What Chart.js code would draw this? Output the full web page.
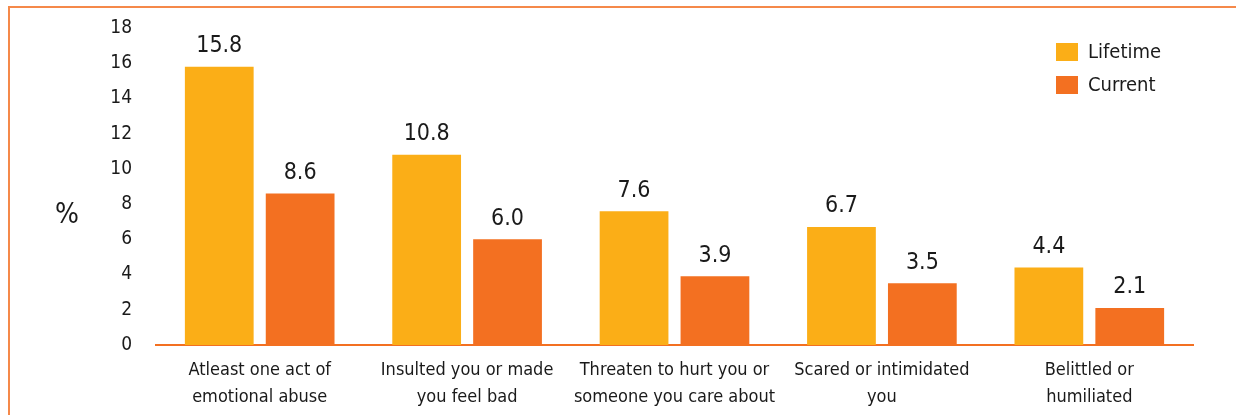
<!DOCTYPE html>
<html>
<head>
<meta charset="utf-8">
<script src="https://cdn.jsdelivr.net/npm/chart.js@4.4.1/dist/chart.umd.min.js"></script>
<style>
  html, body { margin: 0; padding: 0; background: #fff; }
  #wrap { position: relative; width: 1236px; height: 415px; }
  #frame { position: absolute; left: 8px; top: 6px; right: 0; bottom: 0;
           border-top: 2px solid #f5894a; border-left: 2px solid #f5894a; }
  canvas { position: absolute; left: 0; top: 0; }
</style>
</head>
<body>
<div id="wrap">
  <div id="frame"></div>
  <canvas id="chart" width="1236" height="415"></canvas>
</div>
<script>
// values
const categories = [
    ['Atleast one act of', 'emotional abuse'],
    ['Insulted you or made', 'you feel bad'],
    ['Threaten to hurt you or', 'someone you care about'],
    ['Scared or intimidated', 'you'],
    ['Belittled or', 'humiliated']
];
const lifetime = [15.8, 10.8, 7.6, 6.7, 4.4];
const current = [8.6, 6.0, 3.9, 3.5, 2.1];
const yTicks = [0, 2, 4, 6, 8, 10, 12, 14, 16, 18];

const FONT = '"Liberation Sans Narrow", "DejaVu Sans Condensed", sans-serif';
const YELLOW = '#fbae17';
const ORANGE = '#f37021';

// value labels above each bar
const valueLabels = {
    id: 'valueLabels',
    afterDatasetsDraw(chart) {
        const ctx = chart.ctx;
        ctx.save();
        ctx.font = '23px ' + FONT;
        ctx.fillStyle = '#1a1a1a';
        ctx.textAlign = 'center';
        ctx.textBaseline = 'bottom';
        chart.data.datasets.forEach((ds, i) => {
            chart.getDatasetMeta(i).data.forEach((bar, j) => {
                ctx.fillText(ds.data[j].toFixed(1), bar.x, bar.y - 9);
            });
        });
        ctx.restore();
    }
};

// "%" axis title and the legend at top right
const extras = {
    id: 'extras',
    afterDraw(chart) {
        const ctx = chart.ctx;
        ctx.save();
        ctx.fillStyle = '#1a1a1a';
        ctx.font = '28px ' + FONT;
        ctx.textAlign = 'center';
        ctx.textBaseline = 'middle';
        ctx.fillText('%', 67, 216);

        ctx.font = '20px ' + FONT;
        ctx.textAlign = 'left';
        chart.data.datasets.forEach((ds, i) => {
            const y = 43 + i * 33;
            ctx.fillStyle = ds.backgroundColor;
            ctx.fillRect(1056, y, 22, 18);
            ctx.fillStyle = '#1a1a1a';
            ctx.fillText(ds.label, 1088, y + 10);
        });
        ctx.restore();
    }
};

new Chart(document.getElementById('chart'), {
    type: 'bar',
    data: {
        labels: categories,
        datasets: [
            { label: 'Lifetime', data: lifetime, backgroundColor: YELLOW },
            { label: 'Current', data: current, backgroundColor: ORANGE }
        ]
    },
    options: {
        responsive: false,
        animation: false,
        layout: { padding: { top: 28, right: 43, bottom: 0, left: 0 } },
        categoryPercentage: 0.78,
        barPercentage: 0.85,
        plugins: { legend: { display: false }, tooltip: { enabled: false } },
        scales: {
            x: {
                afterFit(scale) { scale.height = 70; },
                grid: { display: false, drawTicks: false },
                border: { display: true, color: ORANGE, width: 2 },
                ticks: { color: '#1a1a1a', font: { family: FONT, size: 18, lineHeight: 1.5 }, padding: 12, maxRotation: 0, autoSkip: false }
            },
            y: {
                min: 0,
                max: 18,
                afterFit(scale) {
                    scale.width = 156;
                    // tick padding is horizontal only here
                    scale.paddingTop = 0;
                    scale.paddingBottom = 0;
                },
                afterBuildTicks(scale) { scale.ticks = yTicks.map(v => ({ value: v })); },
                grid: { display: false, drawTicks: false },
                border: { display: false },
                ticks: { color: '#1a1a1a', font: { family: FONT, size: 19 }, padding: 24 }
            }
        }
    },
    plugins: [valueLabels, extras]
});
</script>
</body>
</html>
